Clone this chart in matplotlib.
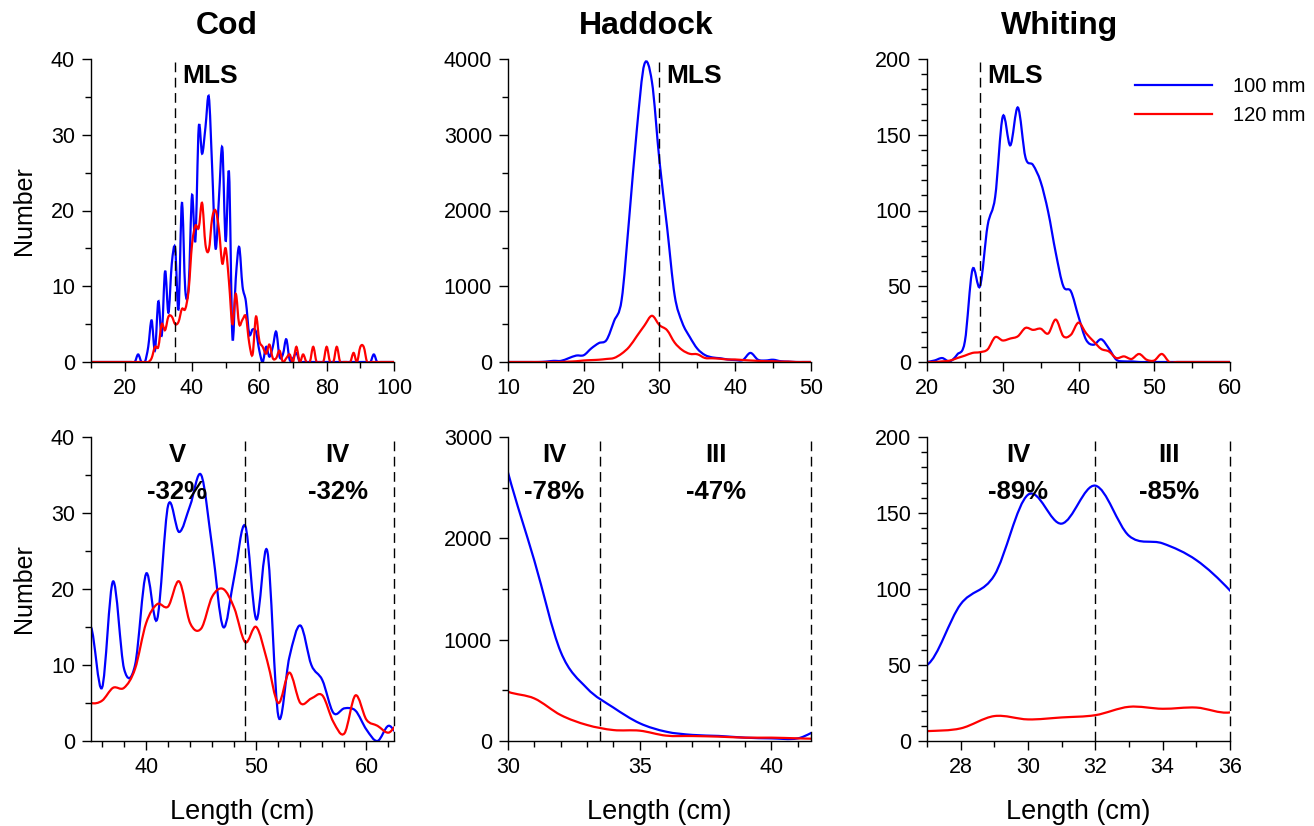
import matplotlib.pyplot as plt
import matplotlib
import numpy as np
from matplotlib.path import Path
from matplotlib.patches import PathPatch
from matplotlib.lines import Line2D
from matplotlib.ticker import MultipleLocator

matplotlib.rcParams['font.family'] = ['Liberation Sans', 'DejaVu Sans']

# length classes (cm)
cod_len = list(range(10, 101))
haddock_len = list(range(10, 51))
whiting_len = list(range(20, 61))

# numbers at length, 100 mm and 120 mm codend
cod_100 = [0, 0, 0, 0, 0, 0, 0, 0, 0, 0,
           0, 0, 0, 0, 1, 0, 0, 2, 5.5, 1.5,
           8, 3.5, 12, 6.5, 13, 15, 7, 21, 9.5, 10,
           22, 16, 31, 27.5, 31, 35, 25.5, 15, 21.6, 28.3,
           16, 25, 3.3, 11, 15.2, 10, 8, 3.7, 4.3, 4.0,
           1.5, 0, 2, 0.7, 2, 4, 0.7, 1, 3, 0.3,
           0.5, 1.2, 0, 0, 0, 0, 0, 0, 0, 0,
           0, 0, 0, 0, 0, 0, 0, 0, 0, 0,
           0, 0, 0, 0, 1, 0, 0, 0, 0, 0,
           0]
cod_120 = [0, 0, 0, 0, 0, 0, 0, 0, 0, 0,
           0, 0, 0, 0, 0, 0, 0, 0, 0.5, 2,
           2, 5, 4.2, 6, 6, 5, 5.3, 7, 7, 9.5,
           15.5, 18, 17.7, 21, 15.5, 14.8, 19, 20, 17.5, 13,
           15, 10.5, 5, 9, 5, 5.6, 6, 2.5, 1, 6,
           2.8, 2, 1.1, 2.3, 0.5, 0.5, 1.5, 0, 0.5, 1,
           0, 2, 0, 1, 0, 0, 2, 0, 0, 0,
           2, 0, 0, 2, 0, 0, 0, 0, 1.2, 0,
           2, 2, 0, 0, 0, 0, 0, 0, 0, 0,
           0]

haddock_100 = [0, 0, 0, 0, 0, 5, 15, 15, 50, 85,
               90, 180, 250, 290, 540, 820, 1900, 3060, 3930, 3700,
               2650, 1780, 880, 520, 330, 175, 92, 60, 50, 33,
               26, 26, 120, 30, 20, 30, 10, 5, 0, 0,
               0]
haddock_120 = [0, 0, 0, 0, 0, 0, 0, 0, 5, 10,
               20, 25, 30, 40, 53, 110, 200, 340, 480, 610,
               486, 420, 256, 158, 108, 102, 53, 49, 43, 33,
               33, 26, 20, 15, 10, 10, 5, 5, 0, 0,
               0]

whiting_100 = [0, 1, 2.6, 0.4, 5, 13.6, 61, 50, 90, 109,
               162, 143, 168, 135, 130, 119, 99, 72, 50, 46.6,
               30, 14.7, 11.4, 15, 9, 1.5, 0.4, 0.4, 0, 0,
               0, 0, 0, 0, 0, 0, 0, 0, 0, 0,
               0]
whiting_120 = [0, 0, 0.4, 0.9, 2.6, 4.2, 6, 6.5, 8.3, 16.4,
               14.2, 15.5, 17, 22.5, 21.2, 22, 18.8, 28, 17, 18,
               26, 19, 13.6, 8.6, 7, 2.6, 3.7, 2, 5.3, 1.5,
               1, 5.3, 0, 0, 0, 0, 0, 0, 0, 0,
               0]

mls = {'Cod': 35, 'Haddock': 30, 'Whiting': 27}

W, H = 1314, 826
BLUE = '#0000ff'
RED = '#ff0000'


def smooth_path(x, y):
    # smoothed line through the points (bezier segments, like a spreadsheet "smoothed line")
    pts = np.column_stack([np.asarray(x, float), np.asarray(y, float)])
    n = len(pts)
    verts = [pts[0]]
    codes = [Path.MOVETO]
    for i in range(n - 1):
        p0 = pts[i - 1] if i > 0 else pts[i]
        p1 = pts[i]
        p2 = pts[i + 1]
        p3 = pts[i + 2] if i + 2 < n else pts[i + 1]
        verts += [p1 + (p2 - p0) / 6, p2 - (p3 - p1) / 6, p2]
        codes += [Path.CURVE4] * 3
    return Path(verts, codes)


def draw_curve(ax, x, y, color):
    ax.add_patch(PathPatch(smooth_path(x, y), fill=False, edgecolor=color, lw=1.6))


def style_axes(ax, xlim, ylim, xmaj, xmin, ymaj, ymin):
    ax.set_xlim(*xlim)
    ax.set_ylim(*ylim)
    ax.xaxis.set_major_locator(MultipleLocator(xmaj))
    ax.xaxis.set_minor_locator(MultipleLocator(xmin))
    ax.yaxis.set_major_locator(MultipleLocator(ymaj))
    ax.yaxis.set_minor_locator(MultipleLocator(ymin))
    for s in ['top', 'right']:
        ax.spines[s].set_visible(False)
    for s in ['left', 'bottom']:
        ax.spines[s].set_linewidth(1.0)
    ax.tick_params(which='major', direction='out', length=6.5, width=1, labelsize=15.5, pad=5)
    ax.tick_params(which='minor', direction='out', length=4.3, width=1)


def dash(ax, x):
    ax.axvline(x, color='black', lw=1, linestyle=(0, (7, 4)), clip_on=False)


fig = plt.figure(figsize=(W / 100, H / 100), dpi=100)

lefts = [91, 508, 927]
aw = 303
top_b, top_h = (H - 362) / H, 303 / H
bot_b, bot_h = (H - 741) / H, 304 / H

species = [
    ('Cod', cod_len, cod_100, cod_120),
    ('Haddock', haddock_len, haddock_100, haddock_120),
    ('Whiting', whiting_len, whiting_100, whiting_120),
]

top_cfg = [((10, 100), (0, 40), 20, 10, 10, 5),
           ((10, 50), (0, 4000), 10, 5, 1000, 500),
           ((20, 60), (0, 200), 10, 5, 50, 10)]
bot_cfg = [((35, 62.5), (0, 40), 10, 2, 10, 5),
           ((30, 41.5), (0, 3000), 5, 1, 1000, 500),
           ((27, 36), (0, 200), 2, 1, 50, 10)]

# bottom panel labels: (x, area, change)
bot_text = [
    [(42.8, 'V', '-32%'), (57.4, 'IV', '-32%')],
    [(31.75, 'IV', '-78%'), (37.9, 'III', '-47%')],
    [(29.7, 'IV', '-89%'), (34.2, 'III', '-85%')],
]
bot_lines = [[49, 62.5], [33.5, 41.5], [32, 36]]

title_x = [227, 646, 1060]

for i, (name, lens, n100, n120) in enumerate(species):
    ax = fig.add_axes([lefts[i] / W, top_b, aw / W, top_h])
    draw_curve(ax, lens, n100, BLUE)
    draw_curve(ax, lens, n120, RED)
    style_axes(ax, *top_cfg[i])
    dash(ax, mls[name])
    ax.annotate('MLS', xy=(mls[name], 0.945), xycoords=('data', 'axes fraction'),
                xytext=(5, 0), textcoords='offset points', ha='left', va='center',
                fontsize=19, fontweight='bold')
    fig.text(title_x[i] / W, 1 - 26 / H, name, ha='center', va='center',
             fontsize=23, fontweight='bold')
    if i == 0:
        ax.set_ylabel('Number', fontsize=18)
        ax.yaxis.set_label_coords(-0.18, 0.5)
    if i == 2:
        handles = [Line2D([], [], color=BLUE, lw=1.6), Line2D([], [], color=RED, lw=1.6)]
        ax.legend(handles, ['100 mm', '120 mm'], loc='upper left',
                  bbox_to_anchor=(1135 / W, 1 - 77 / H), bbox_transform=fig.transFigure,
                  frameon=False, fontsize=14.5, handlelength=3.8, handletextpad=1.05,
                  labelspacing=0.5, borderpad=0, borderaxespad=0)

    bx = fig.add_axes([lefts[i] / W, bot_b, aw / W, bot_h])
    draw_curve(bx, lens, n100, BLUE)
    draw_curve(bx, lens, n120, RED)
    style_axes(bx, *bot_cfg[i])
    for xl in bot_lines[i]:
        dash(bx, xl)
    for xt, area, pct in bot_text[i]:
        bx.text(xt, 0.941, area, transform=bx.get_xaxis_transform(), ha='center',
                va='center', fontsize=18.5, fontweight='bold')
        bx.text(xt, 0.819, pct, transform=bx.get_xaxis_transform(), ha='center',
                va='center', fontsize=18.5, fontweight='bold')
    bx.set_xlabel('Length (cm)', fontsize=19.5)
    bx.xaxis.set_label_coords(0.5, -0.19)
    if i == 0:
        bx.set_ylabel('Number', fontsize=18)
        bx.yaxis.set_label_coords(-0.18, 0.5)

fig.savefig('out.png', dpi=100)
